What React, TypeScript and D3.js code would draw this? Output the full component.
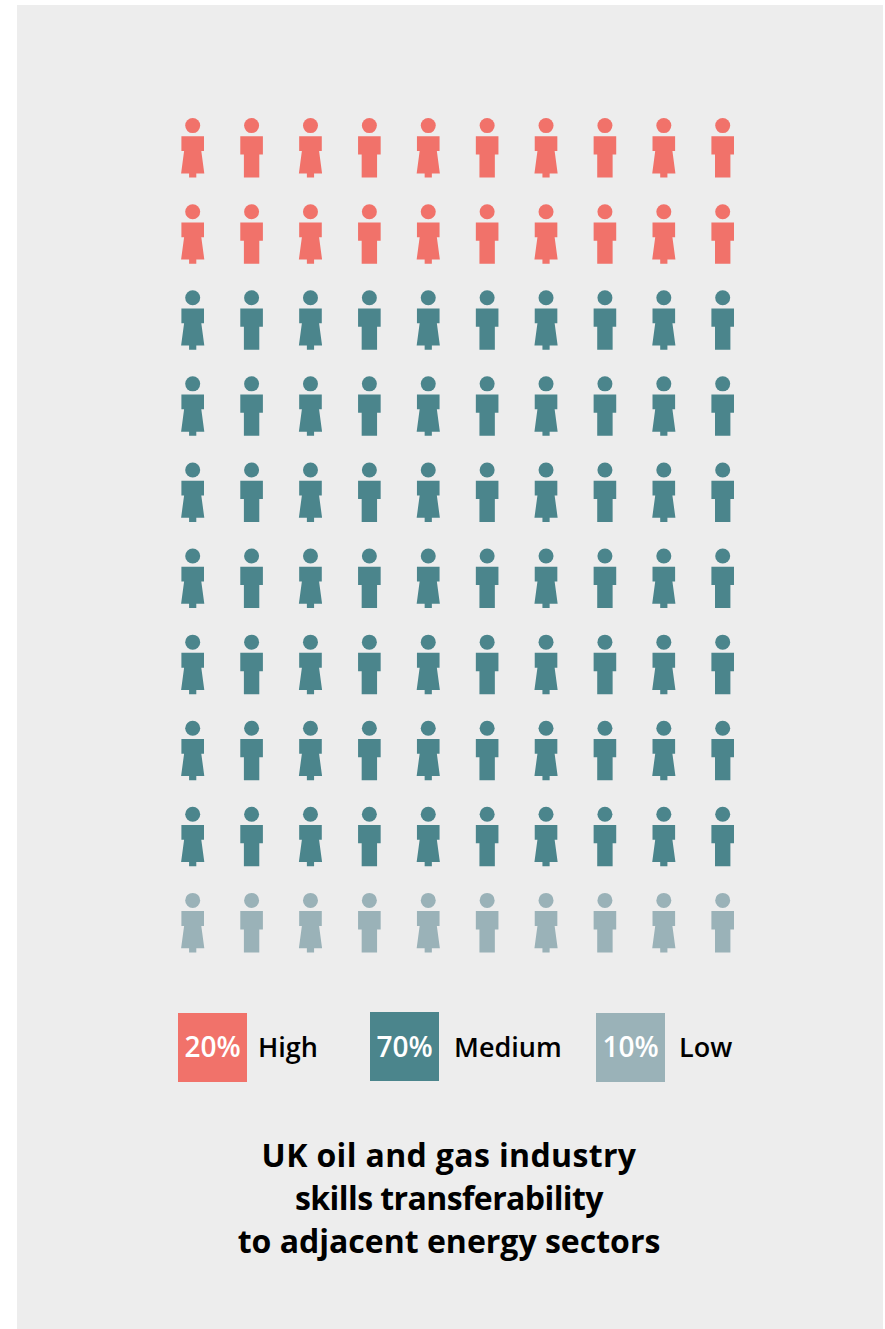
import React from "react";
import * as d3 from "d3";

// Share of skills in each transferability band
const levels = ["High", "Medium", "Low"];
const shares = [20, 70, 10];
const colours = ["#f1726a", "#4b858c", "#9ab2b8"];
const titleLines = [
  "UK oil and gas industry",
  "skills transferability",
  "to adjacent energy sectors",
];
const titleSpacing = [0.36, -0.58, 0];
const columns = d3.range(10);
const rows = d3.range(10);

const WIDTH = 885;
const HEIGHT = 1329;
const FONT = "'Open Sans', sans-serif";

const xScale = d3.scalePoint<number>().domain(columns).range([192.7, 722.7]);
const yScale = d3.scalePoint<number>().domain(rows).range([125.6, 900.4]);

// Each row of ten figures stands for ten percent
const cumulative = d3.cumsum(shares);
const levelOfRow = (row: number) =>
  cumulative.findIndex((c) => (row + 1) * 10 <= c);

const headRadius = 7.5;
const womanPath = d3.path();
womanPath.moveTo(-11.3, 10.7);
womanPath.lineTo(11.3, 10.7);
womanPath.lineTo(11.3, 25.5);
womanPath.lineTo(8.6, 25.5);
womanPath.lineTo(11.6, 47.8);
womanPath.lineTo(3.6, 47.8);
womanPath.lineTo(3.6, 52);
womanPath.lineTo(-3.6, 52);
womanPath.lineTo(-3.6, 47.8);
womanPath.lineTo(-11.6, 47.8);
womanPath.lineTo(-8.6, 25.5);
womanPath.lineTo(-11.3, 25.5);
womanPath.closePath();

const manPath = d3.path();
manPath.moveTo(-11.3, 10.7);
manPath.lineTo(11.3, 10.7);
manPath.lineTo(11.3, 29);
manPath.lineTo(7.7, 29);
manPath.lineTo(7.7, 52);
manPath.lineTo(-7.7, 52);
manPath.lineTo(-7.7, 29);
manPath.lineTo(-11.3, 29);
manPath.closePath();

const legendSwatchX = [178, 370, 596];
const legendSwatchY = [1013, 1012, 1013];
const legendLabelX = [258, 454, 679];
const swatchSize = 69;

export default function App() {
  return (
    <svg
      width={WIDTH}
      height={HEIGHT}
      viewBox={`0 0 ${WIDTH} ${HEIGHT}`}
      style={{ position: "absolute", left: 0, top: 0, background: "#fff" }}
    >
      <rect x={17} y={5} width={866} height={1324} fill="#ededed" />
      {rows.map((row) =>
        columns.map((col) => (
          <g
            key={`${row}-${col}`}
            transform={`translate(${xScale(col)},${yScale(row)})`}
            fill={colours[levelOfRow(row)]}
          >
            <circle r={headRadius} />
            <path d={(col % 2 === 0 ? womanPath : manPath).toString()} />
          </g>
        ))
      )}
      {levels.map((level, i) => (
        <g key={level} fontFamily={FONT} fontWeight={600}>
          <rect
            x={legendSwatchX[i]}
            y={legendSwatchY[i]}
            width={swatchSize}
            height={swatchSize}
            fill={colours[i]}
          />
          <text
            x={legendSwatchX[i] + swatchSize / 2}
            y={1057}
            fontSize={28}
            textAnchor="middle"
            fill="#fff"
          >
            {shares[i]}%
          </text>
          <text x={legendLabelX[i]} y={1057} fontSize={27} fill="#000">
            {level}
          </text>
        </g>
      ))}
      <g fontFamily={FONT} fontSize={32} fontWeight={700} textAnchor="middle" fill="#000">
        {titleLines.map((line, i) => (
          <text key={line} x={449} y={1167 + i * 43} letterSpacing={titleSpacing[i]}>
            {line}
          </text>
        ))}
      </g>
    </svg>
  );
}
